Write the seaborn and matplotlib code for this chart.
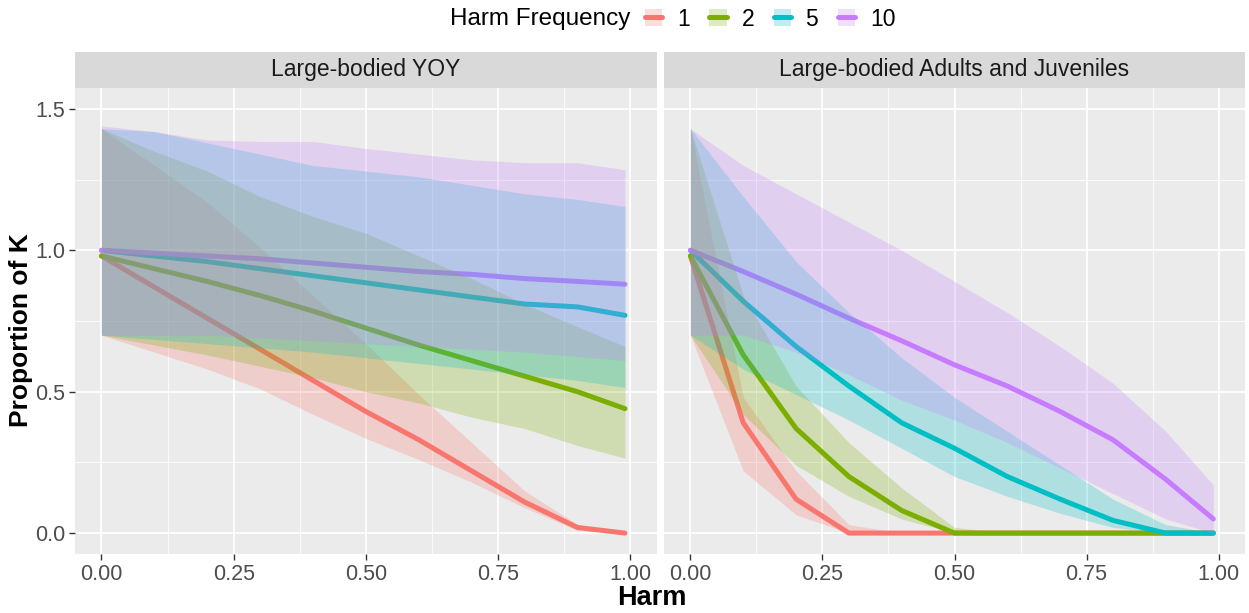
import numpy as np
import pandas as pd
import seaborn as sns
import matplotlib.pyplot as plt
from matplotlib.patches import Rectangle, Patch
from matplotlib.lines import Line2D
from matplotlib.ticker import MultipleLocator

# Harm levels (x axis)
harm = [0.0, 0.1, 0.2, 0.3, 0.4, 0.5, 0.6, 0.7, 0.8, 0.9, 0.99]
freqs = ["1", "2", "5", "10"]
panels = ["Large-bodied YOY", "Large-bodied Adults and Juveniles"]

# Large-bodied YOY: mean proportion of K and ribbon bounds per harm frequency
yoy_mean = {
    "1":  [0.98, 0.87, 0.76, 0.65, 0.54, 0.43, 0.33, 0.22, 0.11, 0.02, 0.00],
    "2":  [0.98, 0.935, 0.89, 0.84, 0.785, 0.725, 0.665, 0.61, 0.555, 0.50, 0.44],
    "5":  [1.00, 0.98, 0.96, 0.935, 0.91, 0.885, 0.86, 0.835, 0.81, 0.80, 0.77],
    "10": [1.00, 0.99, 0.98, 0.97, 0.955, 0.94, 0.925, 0.915, 0.90, 0.89, 0.88],
}
yoy_lo = {
    "1":  [0.70, 0.64, 0.58, 0.51, 0.42, 0.335, 0.26, 0.18, 0.09, 0.01, 0.00],
    "2":  [0.70, 0.665, 0.63, 0.59, 0.55, 0.50, 0.46, 0.41, 0.37, 0.31, 0.265],
    "5":  [0.70, 0.685, 0.67, 0.655, 0.64, 0.62, 0.60, 0.58, 0.56, 0.54, 0.515],
    "10": [0.70, 0.70, 0.70, 0.69, 0.68, 0.67, 0.66, 0.65, 0.64, 0.625, 0.61],
}
yoy_hi = {
    "1":  [1.43, 1.30, 1.17, 1.01, 0.84, 0.67, 0.49, 0.32, 0.15, 0.03, 0.00],
    "2":  [1.43, 1.35, 1.28, 1.19, 1.12, 1.06, 0.98, 0.90, 0.81, 0.73, 0.66],
    "5":  [1.43, 1.42, 1.38, 1.34, 1.30, 1.28, 1.26, 1.23, 1.20, 1.18, 1.155],
    "10": [1.44, 1.42, 1.39, 1.385, 1.385, 1.36, 1.34, 1.32, 1.31, 1.31, 1.285],
}

# Large-bodied Adults and Juveniles
adj_mean = {
    "1":  [0.98, 0.39, 0.12, 0.0, 0.0, 0.0, 0.0, 0.0, 0.0, 0.0, 0.0],
    "2":  [0.98, 0.63, 0.37, 0.20, 0.08, 0.0, 0.0, 0.0, 0.0, 0.0, 0.0],
    "5":  [1.00, 0.82, 0.66, 0.52, 0.39, 0.30, 0.20, 0.12, 0.045, 0.0, 0.0],
    "10": [1.00, 0.925, 0.845, 0.76, 0.68, 0.595, 0.52, 0.43, 0.33, 0.19, 0.05],
}
adj_lo = {
    "1":  [0.70, 0.22, 0.065, 0.0, 0.0, 0.0, 0.0, 0.0, 0.0, 0.0, 0.0],
    "2":  [0.70, 0.42, 0.24, 0.13, 0.05, 0.0, 0.0, 0.0, 0.0, 0.0, 0.0],
    "5":  [0.70, 0.58, 0.49, 0.40, 0.30, 0.20, 0.13, 0.07, 0.02, 0.0, 0.0],
    "10": [0.70, 0.70, 0.64, 0.56, 0.47, 0.40, 0.32, 0.23, 0.14, 0.05, 0.0],
}
adj_hi = {
    "1":  [1.43, 0.48, 0.22, 0.03, 0.0, 0.0, 0.0, 0.0, 0.0, 0.0, 0.0],
    "2":  [1.43, 0.84, 0.52, 0.32, 0.16, 0.02, 0.0, 0.0, 0.0, 0.0, 0.0],
    "5":  [1.43, 1.19, 0.96, 0.78, 0.62, 0.48, 0.36, 0.24, 0.12, 0.03, 0.0],
    "10": [1.43, 1.30, 1.20, 1.10, 1.00, 0.89, 0.78, 0.66, 0.53, 0.36, 0.17],
}

palette = {"1": "#F8766D", "2": "#7CAE00", "5": "#00BFC4", "10": "#C77CFF"}

rows = []
for panel, m, lo, hi in [(panels[0], yoy_mean, yoy_lo, yoy_hi),
                         (panels[1], adj_mean, adj_lo, adj_hi)]:
    for f in freqs:
        for h, a, b, c in zip(harm, m[f], lo[f], hi[f]):
            rows.append({"panel": panel, "freq": f, "harm": h,
                         "prop": a, "lo": b, "hi": c})
df = pd.DataFrame(rows)

sns.set_theme(style="darkgrid")
plt.rcParams["font.family"] = ["Liberation Sans", "DejaVu Sans"]

fig = plt.figure(figsize=(12.49, 6.13), dpi=100)
fig.patch.set_facecolor("white")

W, H = 1249.0, 613.0
top_px, bot_px = 87.7, 554.3
panel_px = [(75.0, 656.7), (664.0, 1245.0)]
axes = []
for (x0, x1) in panel_px:
    ax = fig.add_axes([x0 / W, 1 - bot_px / H, (x1 - x0) / W, (bot_px - top_px) / H])
    axes.append(ax)

strip_h = 36.0 / (bot_px - top_px)
for i, (ax, panel) in enumerate(zip(axes, panels)):
    sub = df[df["panel"] == panel]
    ax.set_facecolor("#EBEBEB")
    sns.lineplot(data=sub, x="harm", y="prop", hue="freq", hue_order=freqs,
                 palette=palette, estimator=None, sort=False, linewidth=3.6,
                 legend=False, ax=ax, zorder=2)
    for f in freqs:
        s = sub[sub["freq"] == f]
        ax.fill_between(s["harm"], s["lo"], s["hi"], color=palette[f],
                        alpha=0.25, linewidth=0, zorder=3)
    ax.set_xlim(-0.05, 1.05)
    ax.set_ylim(-0.075, 1.575)
    ax.xaxis.set_major_locator(MultipleLocator(0.25))
    ax.xaxis.set_minor_locator(MultipleLocator(0.125))
    ax.yaxis.set_major_locator(MultipleLocator(0.5))
    ax.yaxis.set_minor_locator(MultipleLocator(0.25))
    ax.grid(which="major", color="white", linewidth=1.3)
    ax.grid(which="minor", color="white", linewidth=0.6)
    ax.set_axisbelow(True)
    for sp in ax.spines.values():
        sp.set_visible(False)
    ax.set_xticks([0, 0.25, 0.5, 0.75, 1.0])
    ax.set_xticklabels(["0.00", "0.25", "0.50", "0.75", "1.00"])
    ax.tick_params(axis="both", which="major", length=4, width=1,
                   color="#333333", labelsize=15.5, labelcolor="#4D4D4D",
                   bottom=True, left=(i == 0), pad=3)
    ax.tick_params(axis="both", which="minor", length=0)
    ax.set_xlabel("")
    if i == 0:
        ax.set_yticks([0.0, 0.5, 1.0, 1.5])
        ax.set_yticklabels(["0.0", "0.5", "1.0", "1.5"])
        ax.set_ylabel("Proportion of K", fontsize=19, fontweight="bold",
                      color="black")
        ax.yaxis.set_label_coords(-0.072, 0.48)
    else:
        ax.set_yticklabels([])
        ax.set_ylabel("")
    # facet strip
    ax.add_patch(Rectangle((0, 1), 1, strip_h, transform=ax.transAxes,
                           facecolor="#D9D9D9", edgecolor="none", clip_on=False))
    ax.text(0.5, 1 + strip_h / 2, panel, transform=ax.transAxes, ha="center",
            va="center", fontsize=16.5, color="#1A1A1A")

fig.text(652 / W, 1 - 598 / H, "Harm", ha="center", va="center",
         fontsize=19.5, fontweight="bold", color="black")

# legend across the top
handles = [(Patch(facecolor=palette[f], alpha=0.25, edgecolor="none"),
            Line2D([], [], color=palette[f], linewidth=3.6)) for f in freqs]
fig.text(630 / W, 1 - 19 / H, "Harm Frequency", ha="right", va="center",
         fontsize=17.5, color="black")
fig.legend(handles, freqs, ncol=4, loc="center left",
           bbox_to_anchor=(645 / W, 1 - 19 / H), frameon=False,
           fontsize=16.5, handlelength=0.75, handleheight=0.75,
           handletextpad=0.65, columnspacing=0.85, borderpad=0.0,
           borderaxespad=0.0, labelcolor="black")

fig.savefig("out.png", dpi=100, facecolor="white")
